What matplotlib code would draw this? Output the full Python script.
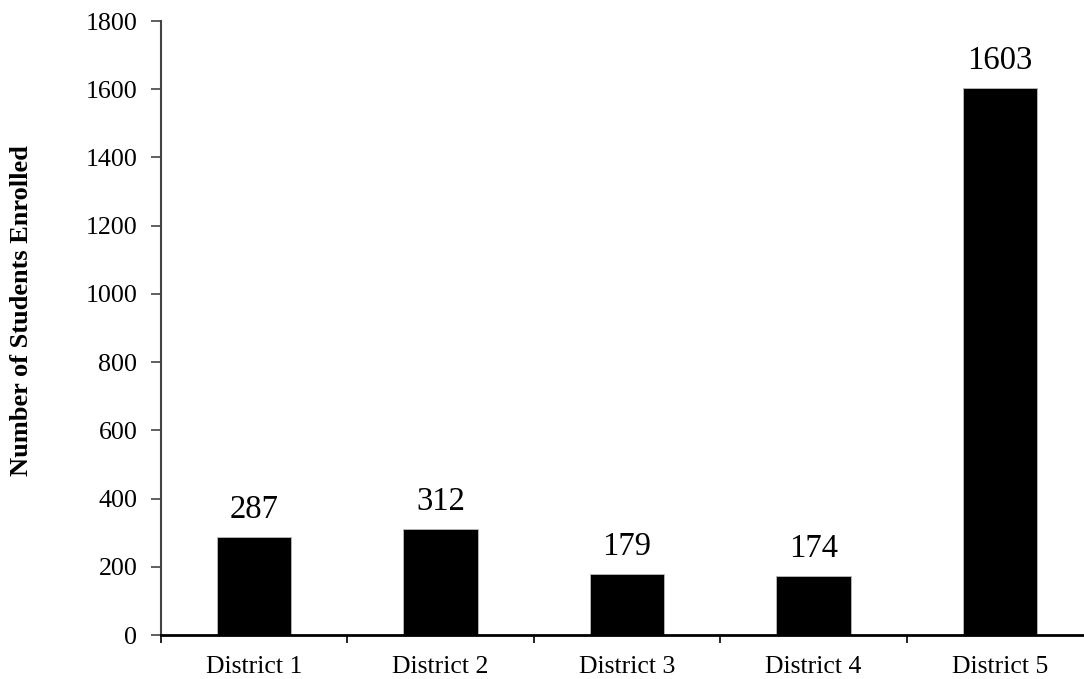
import matplotlib
matplotlib.use("Agg")
import matplotlib.pyplot as plt

# Enrollment counts per district
districts = ["District 1", "District 2", "District 3", "District 4", "District 5"]
enrolled = [287, 312, 179, 174, 1603]
y_ticks = list(range(0, 1801, 200))

plt.rcParams['font.family'] = ['Liberation Serif', 'DejaVu Serif']

fig = plt.figure(figsize=(10.84, 6.79), dpi=100)
ax = fig.add_axes([161 / 1084, 44 / 679, 932 / 1084, 614 / 679])

xs = list(range(len(districts)))
ax.bar(xs, enrolled, width=0.4, color='black', edgecolor='#bbbbbb', linewidth=0.6)

for x, v in zip(xs, enrolled):
    ax.annotate(str(v), (x, v), xytext=(0, 19.5), textcoords='offset points',
                ha='center', va='center', fontsize=23.5)

ax.set_xlim(-0.5, len(districts) - 0.5)
ax.set_ylim(0, 1800)
ax.set_yticks(y_ticks)
ax.set_yticklabels([str(t) for t in y_ticks], fontsize=18.7)

# category labels sit between the boundary ticks
ax.set_xticks([i + 0.5 for i in xs[:-1]] + [-0.5])
ax.set_xticklabels([])
ax.set_xticks(xs, minor=True)
ax.set_xticklabels(districts, minor=True, fontsize=18.5)
ax.tick_params(axis='x', which='minor', length=0, pad=15)
ax.tick_params(axis='x', which='major', direction='out', length=6, width=1.2, color='black')
ax.tick_params(axis='y', direction='out', length=7, width=1.2, color='#444444', pad=10)

ax.set_ylabel('Number of Students Enrolled', fontsize=19, fontweight='bold')
ax.yaxis.set_label_coords(-0.137, 0.528)

for side in ['top', 'right']:
    ax.spines[side].set_visible(False)
ax.spines['left'].set_color('#444444')
ax.spines['left'].set_linewidth(1.5)
ax.spines['bottom'].set_color('black')
ax.spines['bottom'].set_linewidth(2)

fig.savefig('out.png', dpi=100)
